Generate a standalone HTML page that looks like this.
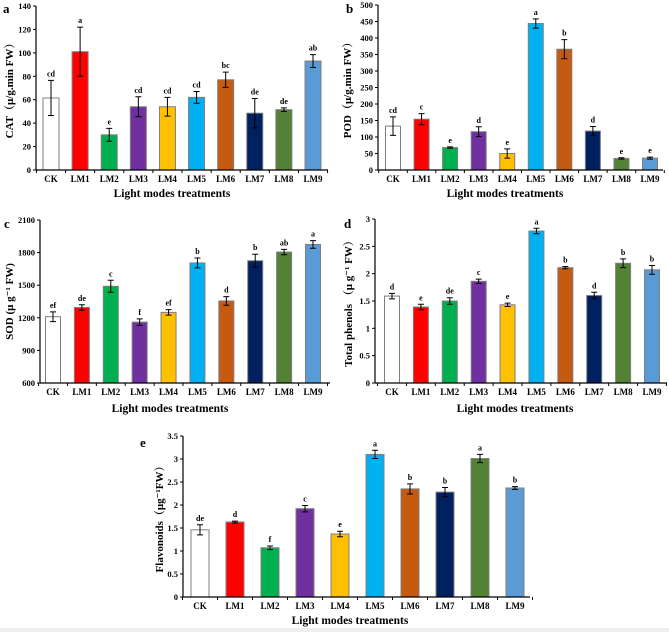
<!DOCTYPE html>
<html><head><meta charset="utf-8"><style>
html,body{margin:0;padding:0;background:#fff;}
svg, svg text{font-family:"Liberation Serif","Times New Roman","DejaVu Serif","Noto Serif CJK SC",serif;font-weight:bold;}
</style></head><body>
<svg id="fig" width="669" height="632" viewBox="0 0 669 632" xmlns="http://www.w3.org/2000/svg">
<rect x="0" y="628" width="669" height="4" fill="#eeeeee"/>
</svg>
<script>
const categories = ["CK","LM1","LM2","LM3","LM4","LM5","LM6","LM7","LM8","LM9"];
const colors = ["#ffffff","#ff0000","#00b050","#7030a0","#ffc000","#00b0f0","#c55a11","#002060","#538135","#5b9bd5"];
const catValues = [61.5,101,30,54,54,62,77,48.5,51.5,93];
const catErrors = [15,21,5.5,8.5,8,5,6.5,12.5,1.5,5.5];
const catLetters = ["cd","a","e","cd","cd","cd","bc","de","de","ab"];
const catTicks = [0,20,40,60,80,100,120,140];
const podValues = [133,154,68,116,50,444,366,118,35,36];
const podErrors = [28,17,2,15,14,14,29,14,2,3];
const podLetters = ["cd","c","e","d","e","a","b","d","e","e"];
const podTicks = [0,50,100,150,200,250,300,350,400,450,500];
const sodValues = [1210,1295,1490,1160,1250,1705,1355,1725,1805,1875];
const sodErrors = [45,25,55,30,25,45,40,60,25,35];
const sodLetters = ["ef","de","c","f","ef","b","d","b","ab","a"];
const sodTicks = [600,900,1200,1500,1800,2100];
const phenValues = [1.59,1.39,1.50,1.86,1.43,2.78,2.11,1.60,2.19,2.07];
const phenErrors = [0.05,0.05,0.06,0.04,0.03,0.05,0.02,0.06,0.08,0.08];
const phenLetters = ["d","e","de","c","e","a","b","d","b","b"];
const phenTicks = [0,0.5,1,1.5,2,2.5,3];
const flavValues = [1.46,1.63,1.07,1.92,1.37,3.10,2.35,2.28,3.01,2.37];
const flavErrors = [0.11,0.02,0.04,0.07,0.06,0.09,0.11,0.10,0.09,0.03];
const flavLetters = ["de","d","f","c","e","a","b","b","a","b"];
const flavTicks = [0,0.5,1,1.5,2,2.5,3,3.5];

const NS="http://www.w3.org/2000/svg";
const svg=document.getElementById('fig');
const FF='"Liberation Serif","Times New Roman","DejaVu Serif","Noto Serif CJK SC",serif';
function mk(tag,attrs,parent,text){const e=document.createElementNS(NS,tag);for(const k in attrs)e.setAttribute(k,attrs[k]);if(text!==undefined){e.textContent=text;e.setAttribute('font-family',FF);e.setAttribute('font-weight','bold');}(parent||svg).appendChild(e);return e;}

function panel(p,vals,errs,letters,ticks){
  const g=mk('g',{});
  
  
  const y0=ticks[0],y1=ticks[ticks.length-1];
  const ys=v=>p.bottom-(v-y0)/(y1-y0)*(p.bottom-p.top);
  const xs=i=>p.c0+i*(p.c9-p.c0)/9;
  const step=(p.c9-p.c0)/9;
  ticks.forEach(t=>{
    const y=ys(t);
    const tk=mk('line',{x1:p.ax-3,x2:p.ax,y1:y,y2:y,stroke:'#000','stroke-width':1},g);
    
    
    const tl=mk('text',{x:p.ax-5,y:y+3,'text-anchor':'end','font-size':8.5},g,String(t));
    
    
  });
  vals.forEach((v,i)=>{
    const x=xs(i),y=ys(v);
    const b=mk('rect',{x:x-p.bw/2,y:y,width:p.bw,height:p.bottom-y,fill:colors[i],stroke:'#7f7f7f','stroke-width':1},g);
    
    
    const eh=ys(v+errs[i]),el=ys(v-errs[i]);
    const eb=mk('path',{d:`M${x},${eh}V${el}M${x-3},${eh}H${x+3}M${x-3},${el}H${x+3}`,stroke:'#000','stroke-width':1,fill:'none'},g);
    
    
    const lt=mk('text',{x:x,y:eh-4,'text-anchor':'middle','font-size':8},g,letters[i]);
    
    
    const xl=mk('text',{x:x,y:p.bottom+12,'text-anchor':'middle','font-size':9},g,categories[i]);
    
    
  });
  for(let i=0;i<=10;i++){
    const x=p.c0-step/2+i*step;
    const t=mk('line',{x1:x,x2:x,y1:p.bottom,y2:p.bottom+3,stroke:'#000','stroke-width':1},g);
    
    
  }
  const ya=mk('line',{x1:p.ax,x2:p.ax,y1:p.top,y2:p.bottom,stroke:'#000','stroke-width':1.2},g);
  
  
  const xa=mk('line',{x1:p.ax,x2:p.xend,y1:p.bottom,y2:p.bottom,stroke:'#000','stroke-width':1.2},g);
  
  
  const yt=mk('text',{x:0,y:0,'text-anchor':'middle','font-size':11,transform:`translate(${p.ytx},${(p.top+p.bottom)/2}) rotate(-90)`},g,p.ytitle);
  
  
  const xt=mk('text',{x:p.xtx,y:p.xty,'text-anchor':'middle','font-size':11.5},g,'Light modes treatments');
  
  
  const pl=mk('text',{x:p.lx,y:p.ly,'font-size':13},g,p.label);
  
  
}
panel({name:'panel-a-cat',ax:36,top:6,bottom:170,xend:328,c0:51,c9:313,bw:16,ytx:13,ytitle:'CAT（μ/g.min FW）',xtx:172,xty:197,lx:3,ly:13,label:'a'},catValues,catErrors,catLetters,catTicks);
panel({name:'panel-b-pod',ax:378,top:5,bottom:170,xend:663,c0:393,c9:650,bw:15,ytx:351,ytitle:'POD（μ/g.min FW）',xtx:505,xty:197,lx:346,ly:13,label:'b'},podValues,podErrors,podLetters,podTicks);
panel({name:'panel-c-sod',ax:40,top:220,bottom:383,xend:330,c0:53,c9:313,bw:15,ytx:13,ytitle:'SOD (μ g⁻¹ FW)',xtx:170,xty:412,lx:4,ly:228,label:'c'},sodValues,sodErrors,sodLetters,sodTicks);
panel({name:'panel-d-phenols',ax:375,top:219,bottom:383,xend:667,c0:392,c9:652,bw:15,ytx:352,ytitle:'Total phenols （μ g⁻¹ FW）',xtx:515,xty:412,lx:344,ly:228,label:'d'},phenValues,phenErrors,phenLetters,phenTicks);
panel({name:'panel-e-flavonoids',ax:183,top:436,bottom:597,xend:530,c0:200,c9:515,bw:18,ytx:163,ytitle:'Flavonoids（μg⁻¹FW）',xtx:350,xty:624,lx:140,ly:447,label:'e'},flavValues,flavErrors,flavLetters,flavTicks);
</script>
</body></html>
